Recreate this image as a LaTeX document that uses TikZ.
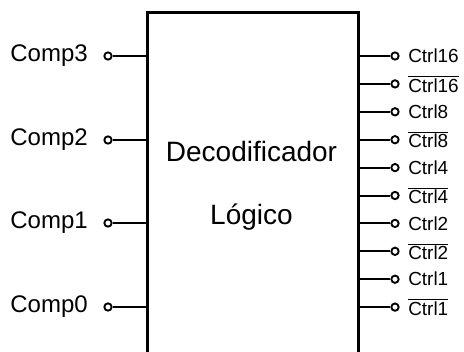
\documentclass[tikz,border=0pt]{standalone}
\usepackage{fontspec}
\setmainfont{Liberation Sans}
\begin{document}
\begin{tikzpicture}[x=0.75pt,y=-0.75pt,
  pin/.style={circle,draw,line width=1.4pt,fill=white,inner sep=0pt,minimum size=5.5pt},
  wire/.style={line width=1.5pt},
  inlabel/.style={anchor=east,inner sep=0pt,font=\fontsize{18}{20}\selectfont},
  outlabel/.style={anchor=west,inner sep=0pt,font=\fontsize{14.2}{16}\selectfont},
  title/.style={font=\fontsize{21}{24}\selectfont}]
\useasboundingbox (0,0) rectangle (464,351);
\clip (0,0) rectangle (464,351);
% decoder body (runs past the lower edge)
\node[draw,line width=1.9pt,minimum width=211*0.75pt,minimum height=360*0.75pt,inner sep=0pt,anchor=north west]
  (dec) at (146,11) {};
\node[title] (t1) at (251.5,151) {Decodificador};
\node[title] (t2) at (251.5,217) {Lógico};
% comparator inputs
\foreach \i/\y in {3/56,2/140,1/223,0/307}{
  \node[pin] (c\i) at (108,\y) {};
  \draw[wire] (c\i.east) -- (c\i -| dec.west);
  \node[inlabel] (lc\i) at (88,\y) {Comp\i};
}
% control outputs, true and complemented
\foreach \k/\n in {0/16,1/8,2/4,3/2,4/1}{
  \pgfmathsetmacro{\ya}{56+2*\k*27.9}
  \pgfmathsetmacro{\yb}{56+(2*\k+1)*27.9}
  \node[pin] (o\n) at (395,\ya) {};
  \draw[wire] (o\n.west) -- (o\n -| dec.east);
  \node[outlabel] (lo\n) at (408,\ya) {Ctrl\n};
  \node[pin] (on\n) at (395,\yb) {};
  \draw[wire] (on\n.west) -- (on\n -| dec.east);
  \node[outlabel] (lon\n) at (408,\yb) {$\overline{\mbox{Ctrl\n}}$};
}
\end{tikzpicture}
\end{document}
